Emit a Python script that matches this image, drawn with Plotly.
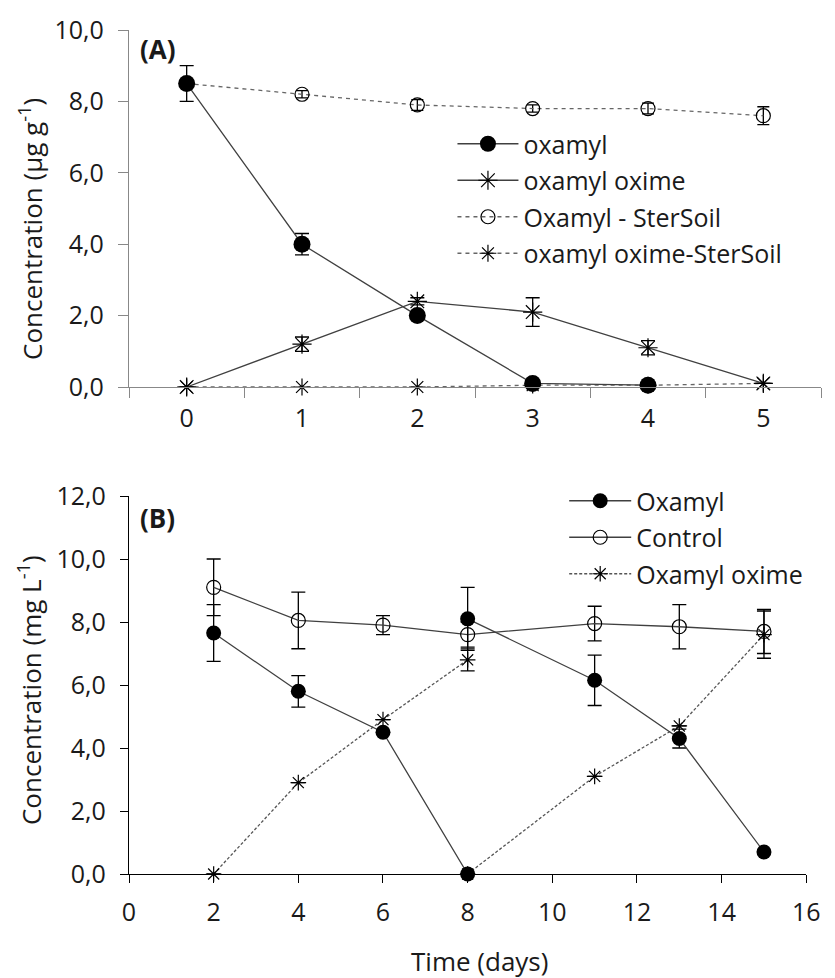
import plotly.graph_objects as go

# ---------------- Panel A data ----------------
days_a = ["0", "1", "2", "3", "4", "5"]
oxamyl_a = [8.5, 4.0, 2.0, 0.1, 0.05, None]
oxamyl_a_err = [0.5, 0.3, None, None, None, None]
oxime_a = [0.0, 1.2, 2.4, 2.1, 1.1, 0.1]
oxime_a_err = [None, 0.2, 0.1, 0.4, 0.2, None]
oxamyl_ster = [8.5, 8.2, 7.9, 7.8, 7.8, 7.6]
oxamyl_ster_err = [None, 0.1, 0.15, 0.1, 0.15, 0.25]
oxime_ster = [0.0, 0.0, 0.0, 0.05, 0.05, 0.1]

# ---------------- Panel B data ----------------
oxamyl_b_days_1 = [2, 4, 6, 8]
oxamyl_b_1 = [7.65, 5.8, 4.5, 0.0]
oxamyl_b_err_1 = [0.9, 0.5, None, None]
oxamyl_b_days_2 = [8, 11, 13, 15]
oxamyl_b_2 = [8.1, 6.15, 4.3, 0.7]
oxamyl_b_err_2 = [1.0, 0.8, 0.3, None]

control_days = [2, 4, 6, 8, 11, 13, 15]
control_b = [9.1, 8.05, 7.9, 7.6, 7.95, 7.85, 7.7]
control_b_err = [0.9, 0.9, 0.3, 0.4, 0.55, 0.7, 0.7]

oxime_b_days_1 = [2, 4, 6, 8]
oxime_b_1 = [0.0, 2.9, 4.9, 6.8]
oxime_b_err_1 = [None, None, None, 0.35]
oxime_b_days_2 = [8, 11, 13, 15]
oxime_b_2 = [0.0, 3.1, 4.7, 7.6]
oxime_b_err_2 = [None, None, None, 0.75]

y_ticks_a = [0, 2, 4, 6, 8, 10]
y_ticks_b = [0, 2, 4, 6, 8, 10, 12]
x_ticks_b = [0, 2, 4, 6, 8, 10, 12, 14, 16]

FONT = "Open Sans"
TXT = "#1a1a1a"
LINE = "#404040"
FS = 25


def join(a, b):
    return a + [None] + b


def err(vals, w=7):
    return dict(type="data", array=vals, visible=True, color="black", thickness=1.3, width=w)


fig = go.Figure()

# Panel A traces
fig.add_trace(go.Scatter(
    x=days_a, y=oxamyl_ster, name="Oxamyl - SterSoil", mode="lines+markers",
    line=dict(color="#666666", width=1.3, dash="4px,4px"),
    marker=dict(symbol="circle-open", size=14, color="black", line=dict(width=1.2, color="black")),
    error_y=err(oxamyl_ster_err, 6), xaxis="x", yaxis="y", legend="legend", legendgroup="a3",
    cliponaxis=False, legendrank=3))
fig.add_trace(go.Scatter(
    x=days_a, y=oxime_ster, name="oxamyl oxime-SterSoil", mode="lines+markers",
    line=dict(color="#666666", width=1.3, dash="4px,4px"),
    marker=dict(symbol="asterisk-open", size=14, color="black", line=dict(width=1.2, color="black")),
    xaxis="x", yaxis="y", legend="legend", legendgroup="a4", cliponaxis=False, legendrank=4))
fig.add_trace(go.Scatter(
    x=days_a, y=oxime_a, name="oxamyl oxime", mode="lines+markers",
    line=dict(color=LINE, width=1.3),
    marker=dict(symbol="asterisk-open", size=16, color="black", line=dict(width=1.2, color="black")),
    error_y=err(oxime_a_err, 7), xaxis="x", yaxis="y", legend="legend", legendgroup="a2",
    cliponaxis=False, legendrank=2))
fig.add_trace(go.Scatter(
    x=days_a, y=oxamyl_a, name="oxamyl", mode="lines+markers",
    line=dict(color=LINE, width=1.3),
    marker=dict(symbol="circle", size=17, color="black"),
    error_y=err(oxamyl_a_err, 7), xaxis="x", yaxis="y", legend="legend", legendgroup="a1",
    cliponaxis=False, legendrank=1))

# Panel B traces
fig.add_trace(go.Scatter(
    x=join(oxime_b_days_1, oxime_b_days_2), y=join(oxime_b_1, oxime_b_2),
    name="Oxamyl oxime", mode="lines+markers", connectgaps=False,
    line=dict(color="#555555", width=1.3, dash="3px,2px"),
    marker=dict(symbol="asterisk-open", size=13, color="black", line=dict(width=1.2, color="black")),
    error_y=err(join(oxime_b_err_1, oxime_b_err_2), 7), xaxis="x2", yaxis="y2",
    legend="legend2", legendgroup="b3", cliponaxis=False, legendrank=3))
fig.add_trace(go.Scatter(
    x=control_days, y=control_b, name="Control", mode="lines+markers",
    line=dict(color=LINE, width=1.3),
    marker=dict(symbol="circle-open", size=14, color="black", line=dict(width=1.2, color="black")),
    error_y=err(control_b_err, 7), xaxis="x2", yaxis="y2",
    legend="legend2", legendgroup="b2", cliponaxis=False, legendrank=2))
fig.add_trace(go.Scatter(
    x=join(oxamyl_b_days_1, oxamyl_b_days_2), y=join(oxamyl_b_1, oxamyl_b_2),
    name="Oxamyl", mode="lines+markers", connectgaps=False,
    line=dict(color=LINE, width=1.3),
    marker=dict(symbol="circle", size=15, color="black"),
    error_y=err(join(oxamyl_b_err_1, oxamyl_b_err_2), 7), xaxis="x2", yaxis="y2",
    legend="legend2", legendgroup="b1", cliponaxis=False, legendrank=1))

# The page adds an 8px body margin, so the figure is offset by 8px.
OFF = 8
W, H = 835 - OFF, 978 - OFF
# plot area in reference pixels: x 129..835, y 30..874
L, R = 129 - OFF, 0
T, B = 30 - OFF, 978 - 874
pw, ph = W - L - R, H - T - B


def px_x(x):  # reference pixel -> paper
    return (x - OFF - L) / pw


def px_y(y):  # reference pixel -> paper
    return (H - B - (y - OFF)) / ph


tickfont = dict(family=FONT, size=FS, color=TXT)

fig.update_layout(
    width=W, height=H, margin=dict(l=L, r=R, t=T, b=B),
    paper_bgcolor="white", plot_bgcolor="white",
    separators=", ",
    font=dict(family=FONT, size=FS, color=TXT),
    xaxis=dict(domain=[0, 1], anchor="y", type="category", categoryorder="array",
               categoryarray=days_a, range=[-0.5, 5.5], tickson="boundaries",
               ticks="outside", ticklen=10, tickcolor="#888888", tickwidth=1.3,
               showline=True, linecolor="#888888", linewidth=1.3, showgrid=False,
               zeroline=False, tickfont=tickfont, ticklabelstandoff=9),
    yaxis=dict(domain=[px_y(387), 1], anchor="x", range=[0, 10], tickvals=y_ticks_a,
               tickformat=".1f", ticks="outside", ticklen=10, tickcolor="#888888",
               tickwidth=1.3, showline=True, linecolor="#888888", linewidth=1.3,
               showgrid=False, zeroline=False, tickfont=tickfont, ticklabelstandoff=9),
    xaxis2=dict(domain=[0, px_x(820)], anchor="y2", range=[0, 16], tickvals=x_ticks_b,
                ticks="outside", ticklen=8, tickcolor="black", tickwidth=1.3,
                showline=True, linecolor="black", linewidth=1.3, showgrid=False,
                zeroline=False, tickfont=tickfont, ticklabelstandoff=8),
    yaxis2=dict(domain=[0, px_y(496)], anchor="x2", range=[0, 12], tickvals=y_ticks_b,
                tickformat=".1f", ticks="outside", ticklen=8, tickcolor="black",
                tickwidth=1.3, showline=True, linecolor="black", linewidth=1.3,
                showgrid=False, zeroline=False, tickfont=tickfont, ticklabelstandoff=9),
    legend=dict(x=px_x(459), y=px_y(121), xanchor="left", yanchor="top",
                bgcolor="rgba(0,0,0,0)", font=dict(family=FONT, size=FS, color=TXT),
                tracegroupgap=1, traceorder="grouped", itemwidth=61),
    legend2=dict(x=px_x(573), y=px_y(478), xanchor="left", yanchor="top",
                 bgcolor="rgba(0,0,0,0)", font=dict(family=FONT, size=FS, color=TXT),
                 tracegroupgap=1, traceorder="grouped", itemwidth=62),
    showlegend=True,
)

annotations = [
    dict(text="<b>(A)</b>", x=px_x(138), y=px_y(49), xref="paper", yref="paper",
         xanchor="left", yanchor="middle", showarrow=False,
         font=dict(family=FONT, size=26, color=TXT)),
    dict(text="<b>(B)</b>", x=px_x(138), y=px_y(518), xref="paper", yref="paper",
         xanchor="left", yanchor="middle", showarrow=False,
         font=dict(family=FONT, size=26, color=TXT)),
    dict(text="Concentration (µg g<sup>-1</sup>)", x=px_x(29), y=px_y(229),
         xref="paper", yref="paper", xanchor="center", yanchor="middle",
         textangle=-90, showarrow=False, font=dict(family=FONT, size=26, color=TXT)),
    dict(text="Concentration (mg L<sup>-1</sup>)", x=px_x(28), y=px_y(690),
         xref="paper", yref="paper", xanchor="center", yanchor="middle",
         textangle=-90, showarrow=False, font=dict(family=FONT, size=26, color=TXT)),
    dict(text="Time (days)", x=px_x(487), y=px_y(961), xref="paper", yref="paper",
         xanchor="center", yanchor="middle", showarrow=False,
         font=dict(family=FONT, size=26, color=TXT)),
]
fig.update_layout(annotations=annotations)

fig.write_html("out.html")
